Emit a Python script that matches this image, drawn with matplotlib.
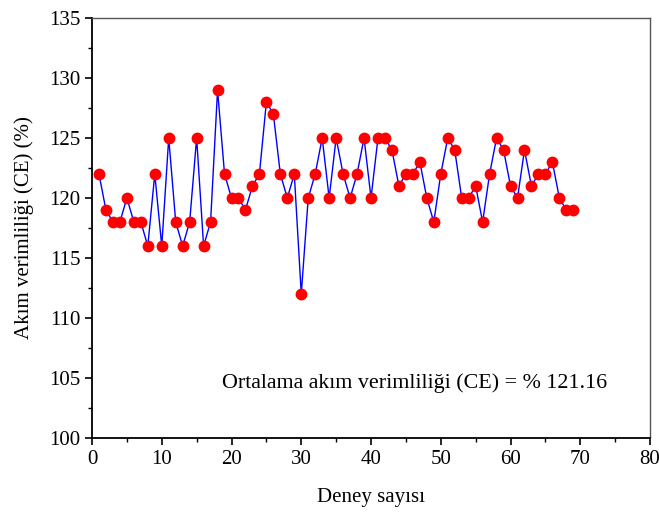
import matplotlib.pyplot as plt
import numpy as np
from matplotlib.ticker import MultipleLocator

plt.rcParams["font.family"] = ["Liberation Serif", "DejaVu Serif"]

run_no = np.arange(1, 70)
efficiency = [
    122, 119, 118, 118, 120, 118, 118, 116, 122, 116,
    125, 118, 116, 118, 125, 116, 118, 129, 122, 120,
    120, 119, 121, 122, 128, 127, 122, 120, 122, 112,
    120, 122, 125, 120, 125, 122, 120, 122, 125, 120,
    125, 125, 124, 121, 122, 122, 123, 120, 118, 122,
    125, 124, 120, 120, 121, 118, 122, 125, 124, 121,
    120, 124, 121, 122, 122, 123, 120, 119, 119,
]
mean_text = "Ortalama akım verimliliği (CE) = % 121.16"

fig = plt.figure(figsize=(6.59, 5.17), dpi=100)
ax = fig.add_axes([0.1396, 0.1528, 0.8468, 0.8124])

ax.plot(run_no, efficiency, color="blue", linewidth=1.0, marker="o",
        markersize=7.5, markerfacecolor="red", markeredgecolor="red")

ax.set_xlim(0, 80)
ax.set_ylim(100, 135)
ax.xaxis.set_major_locator(MultipleLocator(10))
ax.xaxis.set_minor_locator(MultipleLocator(5))
ax.yaxis.set_major_locator(MultipleLocator(5))
ax.yaxis.set_minor_locator(MultipleLocator(2.5))
ax.tick_params(which="major", direction="out", length=5, width=1.2,
               labelsize=15, colors="black")
ax.tick_params(which="minor", direction="out", length=3, width=1.0)

for side in ("left", "bottom"):
    ax.spines[side].set_linewidth(1.3)
    ax.spines[side].set_color("black")
for side in ("top", "right"):
    ax.spines[side].set_linewidth(1.0)
    ax.spines[side].set_color("#555555")

ax.set_xlabel("Deney sayısı", fontsize=15, labelpad=14)
ax.set_ylabel("Akım verimliliği (CE) (%)", fontsize=15, labelpad=11)

ax.text(18.6, 104.6, mean_text, fontsize=15.8, va="center", ha="left")

fig.savefig("out.png", dpi=100)
